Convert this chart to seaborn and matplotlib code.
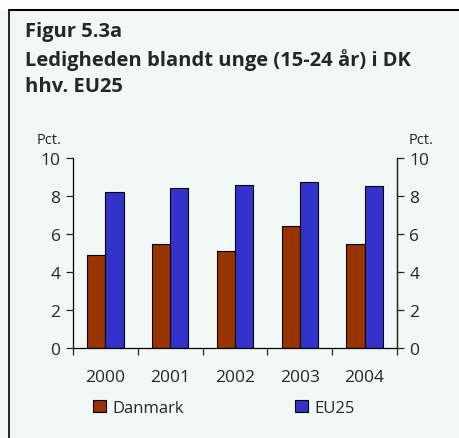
import matplotlib
matplotlib.use("Agg")
import matplotlib.pyplot as plt
import seaborn as sns
import pandas as pd
from matplotlib.lines import Line2D
from matplotlib.patches import Rectangle

# Data
years = ["2000", "2001", "2002", "2003", "2004"]
danmark = [4.9, 5.5, 5.1, 6.4, 5.5]
eu25 = [8.2, 8.4, 8.6, 8.75, 8.55]
series = ["Danmark", "EU25"]
colors = ["#993300", "#3333CC"]
yticks = [0, 2, 4, 6, 8, 10]

df = pd.DataFrame({
    "year": years * 2,
    "value": danmark + eu25,
    "series": [series[0]] * len(years) + [series[1]] * len(years),
})

sns.set_style("white")
plt.rcParams["font.family"] = ["Open Sans", "DejaVu Sans"]

bg = "#F1F8F6"
fig = plt.figure(figsize=(4.59, 4.39), dpi=100)
fig.patch.set_facecolor(bg)

# white band above frame line + frame lines
fig.add_artist(Rectangle((0, 1 - 11 / 439), 1, 11 / 439, transform=fig.transFigure,
                         facecolor="white", edgecolor="none", zorder=0))
fig.add_artist(Line2D([9 / 459, 1], [1 - 11 / 439, 1 - 11 / 439], transform=fig.transFigure,
                      color="black", lw=1.5))
fig.add_artist(Line2D([9 / 459, 9 / 459], [0, 1 - 11 / 439], transform=fig.transFigure,
                      color="black", lw=1.2))

# title
title_size = 14.5
fig.text(25 / 459, 1 - 32 / 439, "Figur 5.3a", fontsize=title_size, fontweight="bold",
         va="center", ha="left")
fig.text(25 / 459, 1 - 60 / 439, "Ledigheden blandt unge (15-24 år) i DK", fontsize=title_size,
         fontweight="bold", va="center", ha="left")
fig.text(25 / 459, 1 - 87 / 439, "hhv. EU25", fontsize=title_size, fontweight="bold",
         va="center", ha="left")

# axes: x 73..397, y 159..349
ax = fig.add_axes([73 / 459, 1 - 349 / 439, (397 - 73) / 459, (349 - 159) / 439])
ax.set_facecolor(bg)
sns.barplot(data=df, x="year", y="value", hue="series", palette=colors, width=0.56,
            edgecolor="black", linewidth=0.8, saturation=1, legend=False, ax=ax)

ax.set_xlim(-0.5, 4.5)
ax.set_ylim(0, 10)
ax.set_yticks(yticks)
ax.set_xlabel("")
ax.set_ylabel("")
ax.spines["top"].set_visible(False)
for s in ["left", "right", "bottom"]:
    ax.spines[s].set_color("black")
    ax.spines[s].set_linewidth(0.9)

ax.tick_params(axis="y", left=True, direction="out", length=5, width=0.9,
               labelsize=12.5, pad=4)
ax.set_xticks(range(len(years)))
ax.set_xticklabels(years)
ax.tick_params(axis="x", which="major", length=0, labelsize=12.5, pad=15)
ax.set_xticks([i - 0.5 for i in range(len(years) + 1)], minor=True)
ax.tick_params(axis="x", which="minor", bottom=True, direction="out", length=5, width=0.9)

ax2 = ax.twinx()
ax2.set_ylim(0, 10)
ax2.set_yticks(yticks)
ax2.tick_params(axis="y", right=True, direction="out", length=5, width=0.9,
                labelsize=12.5, pad=4)
for s in ["top", "left", "bottom"]:
    ax2.spines[s].set_visible(False)
ax2.spines["right"].set_linewidth(0.9)

fig.text(49 / 459, 1 - 141 / 439, "Pct.", fontsize=10.5, ha="center", va="center")
fig.text(421 / 459, 1 - 141 / 439, "Pct.", fontsize=10.5, ha="center", va="center")

# legend
handles = [Rectangle((0, 0), 1, 1, facecolor=c, edgecolor="black", lw=0.8) for c in colors]
fig.legend(handles, series, loc="center", bbox_to_anchor=(224 / 459, 1 - 409 / 439),
           ncol=2, frameon=False, fontsize=12, handlelength=0.75, handleheight=0.75,
           handletextpad=0.4, columnspacing=6.7)

fig.savefig("out.png", dpi=100, facecolor=bg)
